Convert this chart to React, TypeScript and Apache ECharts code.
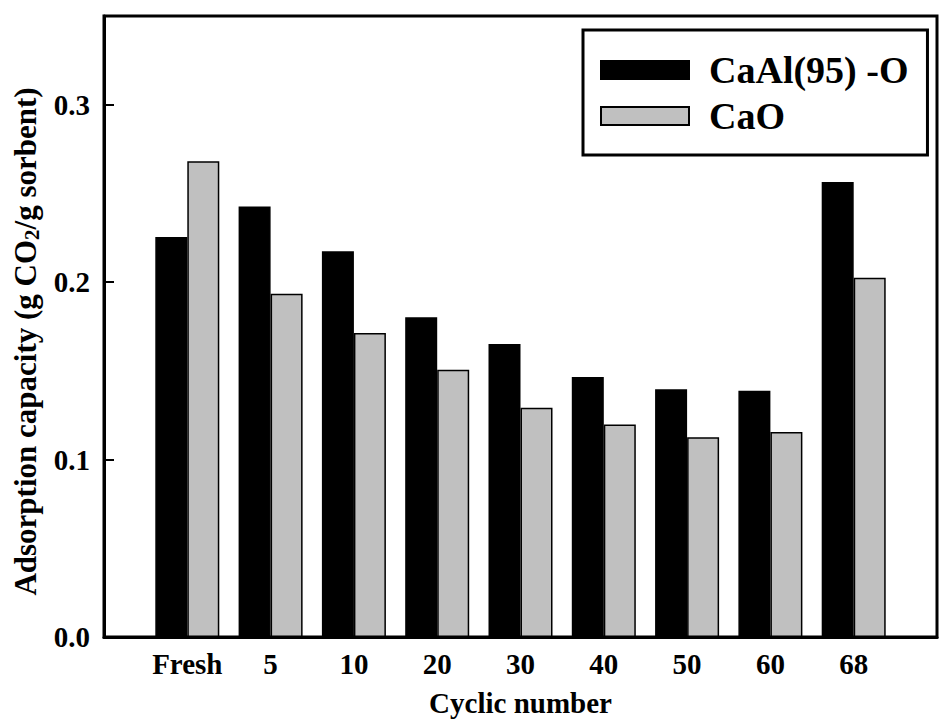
import React, { useEffect, useRef } from "react";
import * as echarts from "echarts";

// Cycle labels along the x axis (blank slots pad both ends of the axis)
const cycles = ["Fresh", "5", "10", "20", "30", "40", "50", "60", "68"];
// CO2 uptake, g CO2 / g sorbent
const caAlValues = [0.2255, 0.2427, 0.2174, 0.1802, 0.1651, 0.1466, 0.1397, 0.1388, 0.2565];
const caOValues = [0.2682, 0.1935, 0.1714, 0.1506, 0.1292, 0.1198, 0.1126, 0.1156, 0.2025];
const seriesNames = ["CaAl(95) -O", "CaO"];
const yTicks = [0, 0.1, 0.2, 0.3];

const FONT = "Liberation Serif";

export default function App() {
  const ref = useRef<HTMLDivElement>(null);

  useEffect(() => {
    if (!ref.current) return;
    const chart = echarts.init(ref.current, undefined, { renderer: "svg" });
    const cats = ["", ...cycles, ""];
    const pad = (arr: number[]) => [null, ...arr, null];

    chart.setOption({
      animation: false,
      backgroundColor: "#fff",
      textStyle: { fontFamily: FONT },
      grid: {
        left: 104,
        top: 16,
        width: 844,
        height: 621,
        show: true,
        borderColor: "#000",
        borderWidth: 3,
        backgroundColor: "transparent",
      },
      legend: {
        orient: "vertical",
        left: 583,
        top: 30,
        padding: [21, 19, 20, 17],
        itemGap: 8,
        itemWidth: 88,
        itemHeight: 18,
        borderColor: "#000",
        borderWidth: 3,
        borderRadius: 0,
        backgroundColor: "#fff",
        icon: "rect",
        data: seriesNames,
        textStyle: {
          fontFamily: FONT,
          fontWeight: "bold",
          fontSize: 38,
          color: "#000",
          padding: [0, 0, 0, 15],
        },
      },
      xAxis: {
        type: "category",
        data: cats,
        boundaryGap: false,
        axisLine: { lineStyle: { color: "#000", width: 3 } },
        axisTick: { show: false },
        axisLabel: {
          color: "#000",
          fontFamily: FONT,
          fontWeight: "bold",
          fontSize: 29,
          margin: 12,
          interval: 0,
        },
        splitLine: { show: false },
        name: "Cyclic number",
        nameLocation: "middle",
        nameGap: 51,
        nameTextStyle: {
          color: "#000",
          fontFamily: FONT,
          fontWeight: "bold",
          fontSize: 29,
        },
      },
      yAxis: {
        type: "value",
        min: 0,
        max: 0.35,
        interval: 0.1,
        axisLine: { show: true, lineStyle: { color: "#000", width: 3 } },
        axisTick: { show: true, inside: true, length: 10, lineStyle: { color: "#000", width: 2 } },
        axisLabel: {
          color: "#000",
          fontFamily: FONT,
          fontWeight: "bold",
          fontSize: 29,
          margin: 14,
          showMaxLabel: false,
          formatter: (v: number) =>
            yTicks.some((t) => Math.abs(t - v) < 1e-6) ? v.toFixed(1) : "",
        },
        splitLine: { show: false },
        name: "{a|Adsorption capacity (g CO}{s|2}{a|/g sorbent)}",
        nameLocation: "middle",
        nameRotate: 90,
        nameGap: 58,
        nameTextStyle: {
          color: "#000",
          fontFamily: FONT,
          fontWeight: "bold",
          fontSize: 31,
          padding: [0, 30, 0, 0],
          rich: {
            a: { fontFamily: FONT, fontWeight: "bold", fontSize: 31, color: "#000" },
            s: {
              fontFamily: FONT,
              fontWeight: "bold",
              fontSize: 21,
              color: "#000",
              padding: [14, 0, 0, 0],
            },
          },
        },
      },
      series: [
        {
          name: seriesNames[0],
          type: "bar",
          data: pad(caAlValues),
          barWidth: 32,
          barGap: "0%",
          itemStyle: { color: "#000", borderColor: "#000", borderWidth: 1.5 },
        },
        {
          name: seriesNames[1],
          type: "bar",
          data: pad(caOValues),
          barWidth: 32,
          barGap: "0%",
          itemStyle: { color: "#c0c0c0", borderColor: "#000", borderWidth: 1.5 },
        },
      ],
    });

    return () => chart.dispose();
  }, []);

  return (
    <div
      ref={ref}
      style={{ position: "fixed", left: 0, top: 0, width: 940, height: 722, background: "#fff" }}
    />
  );
}
